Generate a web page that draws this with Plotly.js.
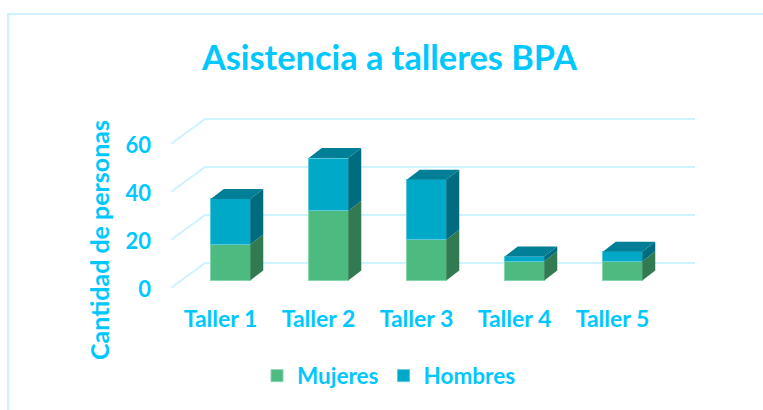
<!DOCTYPE html>
<html><head><meta charset="utf-8">
<script src="https://cdn.plot.ly/plotly-3.0.1.min.js"></script>
<style>html,body{margin:0;padding:0;background:#fff}#c{width:763px;height:410px}</style>
</head><body><div id="c"></div>
<script>
const categories = ["Taller 1","Taller 2","Taller 3","Taller 4","Taller 5"];
const mujeres = [15,29,17,8,8];
const hombres = [19,22,25,2,4];
const yTicks = [0,20,40,60];

const W=763,H=410,L=155,R=700,T=80,B=400;
const pxX=98, pxY=2.4, x0px=230.5, y0px=280.5;
const xMin=(L-x0px)/pxX, xMax=(R-x0px)/pxX;
const yMax=(y0px-T)/pxY, yMin=(y0px-B)/pxY;
const barW=39.5/pxX, dX=13/pxX, dY=10/pxY;
const wallFront=(171-x0px)/pxX, wallBack=(205-x0px)/pxX, wallEnd=(695-x0px)/pxX;
const yFront=-7.5/pxY, yBack=17.5/pxY, yLabel=-8.5/pxY;
const TXT='#00c8ff', GRID='#ccf3ff', FONT='Lato, "Open Sans", sans-serif';

function sideFace(bases,heights){
  const xs=[],ys=[];
  bases.forEach((b,i)=>{
    const r=i+barW/2, t=b+heights[i];
    xs.push(r,r+dX,r+dX,r,r,null);
    ys.push(b,b+dY,t+dY,t,b,null);
  });
  return {xs,ys};
}
function topFace(tops){
  const xs=[],ys=[];
  tops.forEach((t,i)=>{
    const l=i-barW/2,r=i+barW/2;
    xs.push(l,r,r+dX,l+dX,l,null);
    ys.push(t,t,t+dY,t+dY,t,null);
  });
  return {xs,ys};
}
const xIdx=categories.map((_,i)=>i);
const zeros=mujeres.map(()=>0);
const totals=mujeres.map((m,i)=>m+hombres[i]);
const poly=(p,color)=>({type:'scatter',mode:'lines',x:p.xs,y:p.ys,fill:'toself',fillcolor:color,line:{width:0,color:color},showlegend:false,hoverinfo:'skip'});

const data=[
 {type:'bar',name:'Mujeres',x:xIdx,y:mujeres,width:barW,marker:{color:'#4dba7f',line:{color:'#8ad6ac',width:1}}},
 {type:'bar',name:'Hombres',x:xIdx,y:hombres,width:barW,marker:{color:'#00a9c8',line:{color:'#5cc8dc',width:1}}},
 poly(sideFace(zeros,mujeres),'#327a52'),
 poly(sideFace(mujeres,hombres),'#006c80'),
 poly(topFace(totals),'#007f96')
];

const shapes=yTicks.map(v=>({type:'path',layer:'below',xref:'x',yref:'y',
  path:`M${wallFront},${v+yFront} L${wallBack},${v+yBack} L${wallEnd},${v+yBack}`,
  line:{color:GRID,width:2}}));
// chart frame
shapes.push({type:'path',layer:'below',xref:'paper',yref:'paper',
  path:`M${(8-L)/(R-L)},${(B-H)/(B-T)} L${(8-L)/(R-L)},${(B-14)/(B-T)} L${(W-L)/(R-L)},${(B-14)/(B-T)}`,
  line:{color:GRID,width:2}});

const layout={
 width:W,height:H,paper_bgcolor:'#fff',plot_bgcolor:'rgba(0,0,0,0)',
 margin:{l:L,r:W-R,t:T,b:H-B,pad:0},
 barmode:'stack',
 font:{family:FONT,color:TXT},
 title:{text:'<b>Asistencia a talleres BPA</b>',font:{family:FONT,size:34.3,color:TXT},x:389.5/W,xanchor:'center',xref:'container',y:1-58/H,yanchor:'middle',yref:'container'},
 xaxis:{range:[xMin,xMax],tickvals:xIdx,ticktext:categories.map(c=>'<b>'+c+'</b>'),showgrid:false,zeroline:false,showline:false,ticks:'',
   tickfont:{family:FONT,size:23,color:TXT},anchor:'free',position:(B-303)/(B-T),ticklabelshift:-10},
 yaxis:{range:[yMin,yMax],tickvals:yTicks.map(v=>v+yLabel),ticktext:yTicks.map(v=>'<b>'+v+'</b>'),showgrid:false,zeroline:false,showline:false,ticks:'',
   tickfont:{family:FONT,size:22,color:TXT},ticklabelstandoff:3,
   title:{text:'<b>Cantidad de personas</b>',font:{family:FONT,size:25,color:TXT},standoff:8}},
 legend:{orientation:'h',x:(257-L)/(R-L),xanchor:'left',y:(B-376)/(B-T),yanchor:'middle',font:{family:FONT,size:22.5,color:TXT,weight:700},bgcolor:'rgba(0,0,0,0)',itemwidth:30,traceorder:'normal'},
 shapes:shapes,
 showlegend:true
};
Plotly.newPlot('c',data,layout,{staticPlot:true,displayModeBar:false});
</script></body></html>
